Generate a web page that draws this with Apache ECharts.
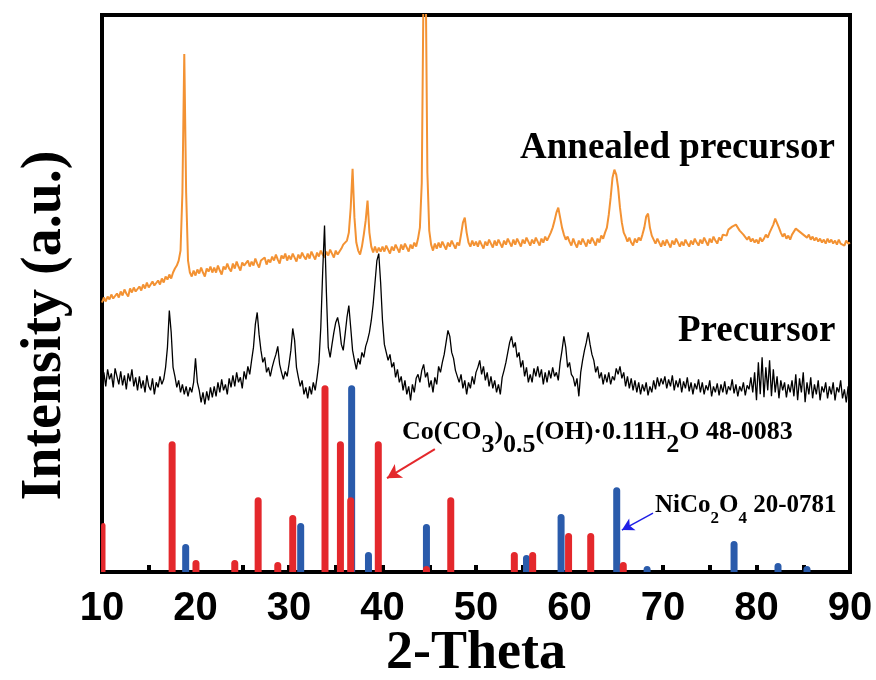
<!DOCTYPE html>
<html>
<head>
<meta charset="utf-8">
<script src="https://cdn.jsdelivr.net/npm/echarts@6/dist/echarts.min.js"></script>
<style>
html,body{margin:0;padding:0;background:#fff;}
#chart{width:876px;height:680px;}
</style>
</head>
<body>
<div id="chart"></div>
<script>
// 2-Theta grid of the measured patterns
const thetaStart = 10;
const thetaStep = 0.2;
const xTicks = [10, 20, 30, 40, 50, 60, 70, 80, 90];

// Annealed precursor pattern (a.u., offset), one value every 0.2 deg from 10 to 90
const annealed = [
270,275,271,276,273,278,274,272,279,275,
281,277,283,279,276,284,280,285,281,279,
286,282,288,284,290,285,283,291,287,289,
292,288,294,290,296,293,298,294,300,304,
307,312,322,380,519,380,312,300,296,302,
297,303,299,305,300,296,304,301,306,300,
305,300,307,302,298,306,303,309,304,301,
309,304,311,306,302,310,307,305,312,306,
311,307,314,309,305,312,310,315,308,313,
310,316,312,318,313,309,317,314,319,312,
317,313,319,315,311,318,314,320,316,313,
319,314,321,317,313,320,316,322,318,315,
321,317,323,319,315,322,318,320,324,328,
326,332,340,365,404,355,330,322,318,326,
338,352,372,340,326,320,326,320,325,321,
326,321,327,323,319,326,322,328,324,320,
328,323,329,325,321,328,324,330,326,334,
345,390,600,620,400,342,328,322,329,324,
330,325,331,327,323,330,326,332,328,324,
330,327,338,350,355,340,330,326,332,327,
331,326,332,328,324,331,327,333,329,325,
332,327,333,329,325,332,328,334,330,326,
333,328,334,330,326,333,329,335,331,327,
333,329,335,331,327,334,330,336,332,336,
340,345,352,360,365,355,345,338,333,336,
331,327,334,329,325,332,328,334,330,326,
333,329,335,331,327,334,330,337,334,340,
345,358,375,395,403,398,385,365,350,340,
336,331,335,330,327,334,330,335,332,338,
345,356,359,345,337,333,329,334,330,326,
332,327,333,329,325,332,328,334,330,326,
331,327,333,329,326,332,328,334,330,327,
333,329,335,331,327,334,330,336,332,329,
335,332,338,340,337,343,341,346,344,348,
345,342,344,338,336,333,336,331,334,330,
333,329,335,331,334,338,335,340,344,348,
354,352,345,340,336,339,334,337,333,338,
341,344,346,341,343,338,340,335,338,333,
336,332,335,331,334,330,333,329,334,330,
333,329,332,328,333,329,331,327,332,329,
330
];

// Precursor pattern (a.u., offset), one value every 0.2 deg from 10 to 90
const precursor = [
190,200,186,203,193,199,185,204,196,188,
201,187,197,183,199,191,203,186,195,182,
196,184,192,180,197,186,182,194,178,190,
185,196,188,193,205,225,262,240,205,196,
185,192,180,188,178,186,176,185,180,190,
214,190,182,170,180,168,181,172,185,175,
186,176,190,180,193,182,188,178,194,185,
197,186,200,190,195,184,201,193,206,198,
212,225,248,260,238,222,210,215,200,205,
196,205,212,218,226,208,200,193,201,196,
208,222,244,232,205,195,186,192,178,185,
174,186,178,190,182,195,210,245,300,347,
280,225,215,228,240,250,255,245,228,222,
238,255,267,245,222,212,203,214,208,220,
215,226,232,240,252,268,290,312,319,290,
252,228,220,212,218,205,210,195,203,190,
196,182,192,178,186,172,188,180,194,198,
190,202,208,195,200,185,192,180,195,188,
206,200,210,218,230,242,236,220,214,202,
196,190,198,184,192,178,190,184,196,188,
200,205,212,198,206,192,200,186,196,184,
192,180,188,178,195,202,210,220,230,236,
225,230,215,220,205,212,196,205,190,198,
190,204,196,206,195,203,188,200,190,202,
194,205,196,200,192,210,222,236,225,205,
210,198,195,186,194,176,200,212,222,230,
240,228,218,212,200,206,194,200,188,198,
190,200,188,196,192,204,198,206,194,200,
186,196,184,194,182,192,180,190,178,188,
181,190,177,186,180,192,183,195,186,194,
188,196,184,193,186,197,182,192,185,194,
180,191,184,195,181,190,178,189,183,193,
180,190,178,187,182,192,176,186,180,189,
177,188,180,191,178,186,182,193,179,188,
176,186,181,190,177,187,183,195,180,200,
172,210,178,215,175,205,182,212,176,203,
180,196,174,192,182,190,175,188,180,192,
176,198,172,194,180,200,170,190,178,195,
174,188,178,192,172,186,180,190,174,186,
178,190,172,185,180,192,174,183,170,186,
177
];

// Reference stick patterns [2-Theta, relative intensity]
const cobaltCarbonateSticks = [
[10.0,49],[17.5,131],[20.05,12],[24.2,12],[26.7,75],[28.8,10],[30.4,57],
[33.85,187],[35.5,131],[36.6,75],[39.55,131],[44.7,6],[47.3,75],
[54.1,20],[56.06,20],[59.9,39],[62.27,39],[65.75,10]
];
const nickelCobaltiteSticks = [
[18.95,28],[31.25,49],[36.7,187],[38.5,20],[44.7,48],[55.4,17],
[59.1,58],[65.05,85],[68.3,6],[77.6,31],[82.3,9],[85.4,6]
];

// Annotation arrows in data coordinates [start, end]
const redArrow = [[45.6,123],[40.48,94]];
const blueArrow = [[68.93,59],[65.6,42]];

const toXY = arr => arr.map((v, i) => [+(thetaStart + i * thetaStep).toFixed(2), v]);

const serif = "'Liberation Serif','Times New Roman',serif";
const chart = echarts.init(document.getElementById('chart'), null, {renderer:'canvas'});

const option = {
  animation: false,
  backgroundColor: '#fff',
  grid: {left: 102, right: 26, top: 15, bottom: 108, show: true, borderColor: '#000', borderWidth: 4,
         containLabel: false, outerBoundsMode: 'none'},
  xAxis: {
    type: 'value', min: 10, max: 90, interval: 10,
    name: '2-Theta', nameLocation: 'middle', nameGap: 55, nameMoveOverlap: false,
    nameTextStyle: {fontFamily: serif, fontWeight: 'bold', fontSize: 54, color: '#000'},
    axisLine: {show: true, lineStyle: {color: '#000', width: 4}},
    axisTick: {show: true, inside: true, length: 7, lineStyle: {color: '#000', width: 4}},
    minorTick: {show: true, splitNumber: 2, length: 7, lineStyle: {color: '#000', width: 4}},
    splitLine: {show: false},
    axisLabel: {
      margin: 17, color: '#000', fontWeight: 'bold', fontSize: 40,
      fontFamily: "'Liberation Sans',Arial,sans-serif",
      formatter: v => xTicks.indexOf(v) >= 0 ? String(v) : ''
    }
  },
  yAxis: {
    type: 'value', min: 0, max: 558,
    name: 'Intensity (a.u.)', nameLocation: 'middle', nameGap: 28, nameMoveOverlap: false,
    nameTextStyle: {fontFamily: serif, fontWeight: 'bold', fontSize: 56, color: '#000', padding: [0, 64, 0, 0]},
    axisLine: {show: true, lineStyle: {color: '#000', width: 4}},
    axisTick: {show: false}, axisLabel: {show: false}, splitLine: {show: false}
  },
  series: [
    {type: 'line', name: 'Annealed precursor', data: toXY(annealed), showSymbol: false, sampling: false,
     lineStyle: {color: '#f39233', width: 2}, z: 3},
    {type: 'line', name: 'Precursor', data: toXY(precursor), showSymbol: false,
     lineStyle: {color: '#000', width: 1.3}, z: 3},
    {type: 'bar', name: 'NiCo2O4 20-0781', data: nickelCobaltiteSticks, barWidth: 7, barGap: '-100%',
     itemStyle: {color: '#2a5bab', borderRadius: [3.5,3.5,0,0]}, z: 2,
     markLine: {silent: true, symbol: ['none','arrow'], symbolSize: [10,12], label: {show: false},
       lineStyle: {color: '#1f1fe6', width: 1.5, type: 'solid'},
       data: [[{coord: blueArrow[0]}, {coord: blueArrow[1]}]]}},
    {type: 'bar', name: 'Co(CO3)0.5(OH)·0.11H2O 48-0083', data: cobaltCarbonateSticks, barWidth: 7, barGap: '-100%',
     itemStyle: {color: '#e4282c', borderRadius: [3.5,3.5,0,0]}, z: 2,
     markLine: {silent: true, symbol: ['none','arrow'], symbolSize: [12,14], label: {show: false},
       lineStyle: {color: '#e4282c', width: 2, type: 'solid'},
       data: [[{coord: redArrow[0]}, {coord: redArrow[1]}]]}}
  ],
  graphic: [
    {type: 'text', style: {x: 520, y: 148, text: 'Annealed precursor', fill: '#000', font: "bold 37px " + serif, verticalAlign: 'middle', align: 'left'}},
    {type: 'text', style: {x: 678, y: 331, text: 'Precursor', fill: '#000', font: "bold 37px " + serif, verticalAlign: 'middle', align: 'left'}},
    {type: 'text', style: {x: 402, y: 419, fill: '#000',
      text: '{a|Co(CO}{s|3}{a|)}{s|0.5}{a|(OH)·0.11H}{s|2}{a|O 48-0083}',
      verticalAlign: 'top', align: 'left',
      rich: {
        a: {fontFamily: serif, fontWeight: 'bold', fontSize: 26, lineHeight: 28, verticalAlign: 'top', fill: '#000'},
        s: {fontFamily: serif, fontWeight: 'bold', fontSize: 26, lineHeight: 39, verticalAlign: 'bottom', fill: '#000'}
      }}},
    {type: 'text', style: {x: 655, y: 493, fill: '#000',
      text: '{a|NiCo}{s|2}{a|O}{s|4}{a| 20-0781}',
      verticalAlign: 'top', align: 'left',
      rich: {
        a: {fontFamily: serif, fontWeight: 'bold', fontSize: 25, lineHeight: 26, verticalAlign: 'top', fill: '#000'},
        s: {fontFamily: serif, fontWeight: 'bold', fontSize: 17, lineHeight: 34, verticalAlign: 'bottom', fill: '#000'}
      }}}
  ]
};
chart.setOption(option);
</script>
</body>
</html>
